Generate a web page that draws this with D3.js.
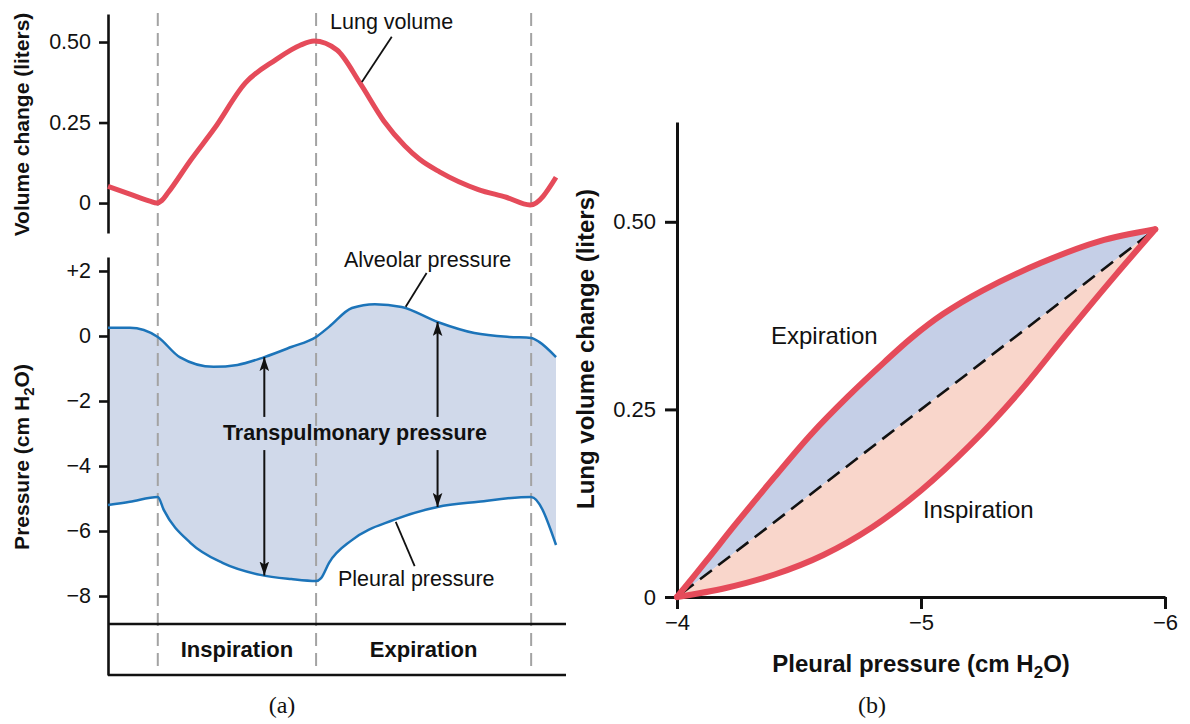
<!DOCTYPE html>
<html>
<head>
<meta charset="utf-8">
<script src="https://cdn.jsdelivr.net/npm/d3@7"></script>
<style>
  body { margin: 0; background: #fff; }
  svg text { font-family: "Liberation Sans", Arial, Helvetica, sans-serif; fill: #111; }
</style>
</head>
<body>
<svg id="chart" width="1190" height="724"></svg>
<script>
// ---------- Panel (a): one breath over time (s) ----------
const phaseBounds = [0.5, 2.09, 4.25];          // start insp., start exp., end exp.
const phaseNames = ["Inspiration", "Expiration"];

const volumeTime   = [0, 0.22, 0.42, 0.49, 0.54, 0.6, 0.83, 1.07, 1.38, 1.68, 1.93, 2.07, 2.3, 2.53, 2.77, 2.98, 3.13, 3.33, 3.72, 4.0, 4.24, 4.5];
const volumeValues = [0.052, 0.028, 0.006, 0.0, 0.008, 0.031, 0.133, 0.232, 0.373, 0.444, 0.49, 0.503, 0.475, 0.373, 0.255, 0.178, 0.136, 0.097, 0.042, 0.018, -0.006, 0.08];

const alveolarTime   = [0, 0.22, 0.5, 0.72, 1.06, 1.3, 1.57, 1.84, 2.09, 2.22, 2.45, 2.68, 2.95, 3.31, 3.68, 4.03, 4.25, 4.33, 4.5];
const alveolarValues = [0.25, 0.25, -0.03, -0.65, -0.95, -0.89, -0.65, -0.34, -0.03, 0.28, 0.86, 0.98, 0.89, 0.43, 0.09, -0.03, -0.06, -0.18, -0.65];

const pleuralTime   = [0, 0.22, 0.5, 0.56, 0.83, 1.15, 1.53, 1.84, 2.09, 2.14, 2.22, 2.45, 2.87, 3.31, 3.72, 4.25, 4.5];
const pleuralValues = [-5.2, -5.1, -4.95, -5.35, -6.37, -6.98, -7.35, -7.48, -7.54, -7.45, -6.98, -6.28, -5.66, -5.26, -5.1, -4.95, -6.43];

const volumeTicks = [0, 0.25, 0.5];
const volumeTickLabels = ["0", "0.25", "0.50"];
const pressureTicks = [2, 0, -2, -4, -6, -8];
const pressureTickLabels = ["+2", "0", "\u22122", "\u22124", "\u22126", "\u22128"];

// transpulmonary arrows: time, alveolar tip, pleural tip
const arrowTime   = [1.57, 3.31];
const arrowTop    = [-0.65, 0.43];
const arrowBottom = [-7.37, -5.26];

// ---------- Panel (b): pressure-volume loop ----------
const expirationPressure = [-4.0, -4.12, -4.24, -4.4, -4.55, -4.7, -4.85, -4.96, -5.09, -5.25, -5.49, -5.73, -5.96];
const expirationVolume   = [0, 0.048, 0.097, 0.16, 0.217, 0.267, 0.313, 0.345, 0.377, 0.408, 0.445, 0.474, 0.49];
const inspirationPressure = [-4.0, -4.2, -4.4, -4.6, -4.8, -5.0, -5.2, -5.4, -5.6, -5.8, -5.96];
const inspirationVolume   = [0, 0.012, 0.03, 0.056, 0.093, 0.142, 0.202, 0.272, 0.352, 0.43, 0.49];

const loopXTicks = [-4, -5, -6];
const loopXTickLabels = ["\u22124", "\u22125", "\u22126"];
const loopYTicks = [0, 0.25, 0.5];
const loopYTickLabels = ["0", "0.25", "0.50"];

// ---------- colours ----------
const RED = "#e54b5a";
const BLUE = "#1c74b9";
const FILL_A = "#d0d9ea";
const FILL_EXP = "#c5cfe7";
const FILL_INSP = "#f9d6cb";

const svg = d3.select("#chart");

const defs = svg.append("defs");
defs.append("marker")
  .attr("id", "arrowhead")
  .attr("viewBox", "0 -5 14 10")
  .attr("refX", 14).attr("refY", 0)
  .attr("markerWidth", 14).attr("markerHeight", 10)
  .attr("markerUnits", "userSpaceOnUse")
  .attr("orient", "auto")
  .append("path")
  .attr("d", "M0,-4.8 L14,0 L0,4.8 L3,0 Z")
  .attr("fill", "#111");

// ===== Panel (a) =====
const x = d3.scaleLinear().domain([0, 4.6]).range([108, 566]);
const yVol = d3.scaleLinear().domain([-0.093, 0.587]).range([233, 14]);
const yPres = d3.scaleLinear().domain([-10.43, 2.43]).range([675, 257]);
const labelRowTop = -8.86;           // pressure level of the phase-label row border

const gA = svg.append("g");

const alveolar = alveolarTime.map((t, i) => [t, alveolarValues[i]]);
const pleural = pleuralTime.map((t, i) => [t, pleuralValues[i]]);
const volume = volumeTime.map((t, i) => [t, volumeValues[i]]);

// filled band between alveolar and pleural pressure
defs.append("clipPath").attr("id", "abovePleural")
  .append("path")
  .attr("d", d3.area().x(d => x(d[0])).y0(yPres.range()[1]).y1(d => yPres(d[1])).curve(d3.curveMonotoneX)(pleural));

gA.append("path")
  .attr("d", d3.area().x(d => x(d[0])).y0(yPres.range()[0]).y1(d => yPres(d[1])).curve(d3.curveMonotoneX)(alveolar))
  .attr("fill", FILL_A)
  .attr("clip-path", "url(#abovePleural)");

// phase boundaries
gA.selectAll("line.phase").data(phaseBounds).join("line")
  .attr("class", "phase")
  .attr("x1", d => x(d)).attr("x2", d => x(d))
  .attr("y1", yVol.range()[1] - 1).attr("y2", yPres(-10.34))
  .attr("stroke", "#a3a3a3").attr("stroke-width", 2)
  .attr("stroke-dasharray", "13,7");

// phase label row
[labelRowTop, yPres.domain()[0]].forEach(p => {
  gA.append("line")
    .attr("x1", x(0)).attr("x2", x(4.6))
    .attr("y1", yPres(p)).attr("y2", yPres(p))
    .attr("stroke", "#111").attr("stroke-width", 2.6);
});
phaseNames.forEach((name, i) => {
  gA.append("text")
    .attr("x", (x(phaseBounds[i]) + x(phaseBounds[i + 1])) / 2)
    .attr("y", yPres(-9.88))
    .attr("text-anchor", "middle")
    .attr("font-size", 22).attr("font-weight", "bold")
    .text(name);
});

// axes
function styleAxis(g, w, fs) {
  g.select(".domain").attr("stroke", "#111").attr("stroke-width", w);
  g.selectAll(".tick line").attr("stroke", "#111").attr("stroke-width", w);
  g.selectAll(".tick text").attr("font-size", fs).attr("fill", "#111")
    .attr("font-family", '"Liberation Sans", Arial, sans-serif');
}
gA.append("g").attr("transform", `translate(${x(0)},0)`)
  .call(d3.axisLeft(yVol).tickValues(volumeTicks).tickFormat((d, i) => volumeTickLabels[i])
    .tickSize(9).tickPadding(8).tickSizeOuter(0))
  .call(g => styleAxis(g, 2.6, 21.5));
gA.append("g").attr("transform", `translate(${x(0)},0)`)
  .call(d3.axisLeft(yPres).tickValues(pressureTicks).tickFormat((d, i) => pressureTickLabels[i])
    .tickSize(9).tickPadding(8).tickSizeOuter(0))
  .call(g => styleAxis(g, 2.6, 21.5));

// curves
gA.append("path")
  .attr("d", d3.line().x(d => x(d[0])).y(d => yVol(d[1])).curve(d3.curveMonotoneX)(volume))
  .attr("fill", "none").attr("stroke", RED).attr("stroke-width", 5)
  .attr("stroke-linecap", "butt").attr("stroke-linejoin", "round");
[alveolar, pleural].forEach(series => {
  gA.append("path")
    .attr("d", d3.line().x(d => x(d[0])).y(d => yPres(d[1])).curve(d3.curveMonotoneX)(series))
    .attr("fill", "none").attr("stroke", BLUE).attr("stroke-width", 2.5)
    .attr("stroke-linejoin", "round");
});

// transpulmonary pressure arrows
arrowTime.forEach((t, i) => {
  gA.append("line")
    .attr("x1", x(t)).attr("x2", x(t))
    .attr("y1", yPres(-2.49)).attr("y2", yPres(arrowTop[i]))
    .attr("stroke", "#111").attr("stroke-width", 2)
    .attr("marker-end", "url(#arrowhead)");
  gA.append("line")
    .attr("x1", x(t)).attr("x2", x(t))
    .attr("y1", yPres(-3.51)).attr("y2", yPres(arrowBottom[i]))
    .attr("stroke", "#111").attr("stroke-width", 2)
    .attr("marker-end", "url(#arrowhead)");
});
gA.append("text")
  .attr("x", x(2.48)).attr("y", yPres(-3.2))
  .attr("text-anchor", "middle")
  .attr("font-size", 21.5).attr("font-weight", "bold")
  .text("Transpulmonary pressure");

// curve annotations with leader lines
const notes = [
  { text: "Lung volume", tx: 2.23, ty: yVol(0.54), line: [[2.85, yVol(0.516)], [2.55, yVol(0.376)]] },
  { text: "Alveolar pressure", tx: 2.37, ty: yPres(2.12), line: [[3.2, yPres(1.94)], [2.99, yPres(0.9)]] },
  { text: "Pleural pressure", tx: 2.31, ty: yPres(-7.69), line: [[2.89, yPres(-5.72)], [3.08, yPres(-7.08)]] }
];
notes.forEach(n => {
  gA.append("text").attr("x", x(n.tx)).attr("y", n.ty)
    .attr("font-size", 21.5).text(n.text);
  gA.append("line")
    .attr("x1", x(n.line[0][0])).attr("y1", n.line[0][1])
    .attr("x2", x(n.line[1][0])).attr("y2", n.line[1][1])
    .attr("stroke", "#111").attr("stroke-width", 1.8);
});

// axis titles
gA.append("text")
  .attr("transform", `translate(29,${(yVol.range()[0] + yVol.range()[1]) / 2 + 1}) rotate(-90)`)
  .attr("text-anchor", "middle").attr("font-size", 21).attr("font-weight", "bold")
  .text("Volume change (liters)");
const presTitle = gA.append("text")
  .attr("transform", "translate(29,457) rotate(-90)")
  .attr("text-anchor", "middle").attr("font-size", 21).attr("font-weight", "bold");
presTitle.append("tspan").text("Pressure (cm H");
presTitle.append("tspan").attr("font-size", 15).attr("dy", 5).text("2");
presTitle.append("tspan").attr("dy", -5).text("O)");

gA.append("text")
  .attr("x", 282).attr("y", 713).attr("text-anchor", "middle")
  .attr("font-size", 24).style("font-family", '"Liberation Serif", "DejaVu Serif", serif')
  .text("(a)");

// ===== Panel (b) =====
const xP = d3.scaleLinear().domain([-4, -6]).range([677, 1165]);
const yV = d3.scaleLinear().domain([0, 0.633]).range([597, 122]);
const gB = svg.append("g");

const expiration = expirationPressure.map((p, i) => [p, expirationVolume[i]]);
const inspiration = inspirationPressure.map((p, i) => [p, inspirationVolume[i]]);
const loopLine = d3.line().x(d => xP(d[0])).y(d => yV(d[1])).curve(d3.curveCatmullRom.alpha(0.5));

gB.append("path").attr("d", loopLine(expiration) + "Z").attr("fill", FILL_EXP);
gB.append("path").attr("d", loopLine(inspiration) + "Z").attr("fill", FILL_INSP);

const first = expiration[0], last = expiration[expiration.length - 1];
gB.append("line")
  .attr("x1", xP(first[0])).attr("y1", yV(first[1]))
  .attr("x2", xP(last[0])).attr("y2", yV(last[1]))
  .attr("stroke", "#111").attr("stroke-width", 2.6)
  .attr("stroke-dasharray", "15,8").attr("stroke-dashoffset", -6);

gB.append("g").attr("transform", `translate(${xP(-4)},0)`)
  .call(d3.axisLeft(yV).tickValues(loopYTicks).tickFormat((d, i) => loopYTickLabels[i])
    .tickSize(12).tickPadding(9).tickSizeOuter(0))
  .call(g => styleAxis(g, 3, 22));
gB.append("g").attr("transform", `translate(0,${yV(0)})`)
  .call(d3.axisBottom(xP).tickValues(loopXTicks).tickFormat((d, i) => loopXTickLabels[i])
    .tickSize(12).tickPadding(5).tickSizeOuter(0))
  .call(g => styleAxis(g, 3, 22));

[expiration, inspiration].forEach(series => {
  gB.append("path").attr("d", loopLine(series))
    .attr("fill", "none").attr("stroke", RED).attr("stroke-width", 6)
    .attr("stroke-linecap", "round").attr("stroke-linejoin", "round");
});

gB.append("text").attr("x", xP(-4.385)).attr("y", yV(0.337))
  .attr("font-size", 24).text("Expiration");
gB.append("text").attr("x", xP(-5.008)).attr("y", yV(0.105))
  .attr("font-size", 24).text("Inspiration");

const xTitle = gB.append("text")
  .attr("x", xP(-5)).attr("y", 672).attr("text-anchor", "middle")
  .attr("font-size", 24).attr("font-weight", "bold");
xTitle.append("tspan").text("Pleural pressure (cm H");
xTitle.append("tspan").attr("font-size", 17).attr("dy", 6).text("2");
xTitle.append("tspan").attr("dy", -6).text("O)");

gB.append("text")
  .attr("transform", "translate(594,349) rotate(-90)")
  .attr("text-anchor", "middle").attr("font-size", 24).attr("font-weight", "bold")
  .text("Lung volume change (liters)");

gB.append("text")
  .attr("x", 872).attr("y", 713).attr("text-anchor", "middle")
  .attr("font-size", 24).style("font-family", '"Liberation Serif", "DejaVu Serif", serif')
  .text("(b)");
</script>
</body>
</html>
